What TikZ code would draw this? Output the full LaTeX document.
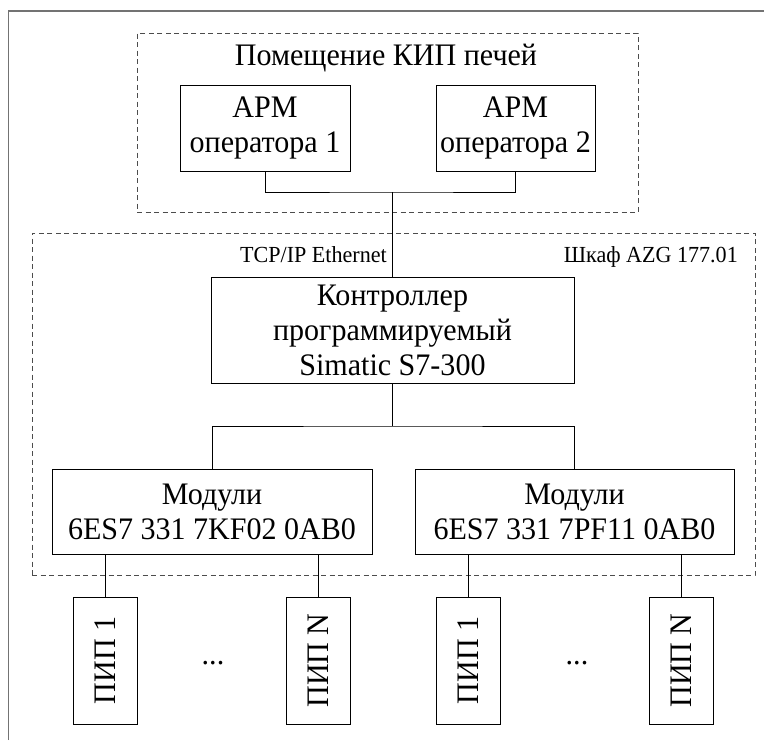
\documentclass[tikz,border=0pt]{standalone}
\usepackage{fontspec}
\setmainfont{Liberation Serif}[FakeStretch=0.96]
\newcommand\mainfnt{\fontsize{31.3}{35}\selectfont}
\newcommand\smallfnt{\fontsize{23}{26}\selectfont}
\begin{document}
\begin{tikzpicture}[x=1pt,y=-1pt,
    blk/.style={draw,line width=1pt,inner sep=0pt,align=center,font=\mainfnt},
    zone/.style={draw=black!70,dash pattern=on 5pt off 3.5pt,line width=1pt,inner sep=0pt},
    lbl/.style={inner sep=0pt}]
    \useasboundingbox (0,0) rectangle (764,740);
    \draw[black!55,line width=1.8pt] (8.5,740) -- (8.5,10.8) -- (764,10.8);
    %
    \node[zone,minimum width=501pt,minimum height=179pt] (room) at (387.5,122.5) {};
    \node[zone,minimum width=723pt,minimum height=342pt] (cab) at (393.5,404) {};
    \node[lbl,font=\mainfnt,anchor=base] (roomlbl) at (386,65) {Помещение КИП печей};
    \node[lbl,font=\smallfnt,anchor=base east] (net) at (387,262) {TCP/IP Ethernet};
    \node[lbl,font=\smallfnt,anchor=base east] (cablbl) at (738,262) {Шкаф AZG 177.01};
    %
    \node[blk,minimum width=170pt,minimum height=86pt] (arm1) at (265,128) {АРМ\\оператора 1};
    \node[blk,minimum width=159pt,minimum height=86pt] (arm2) at (515.5,128) {АРМ\\оператора 2};
    \node[blk,minimum width=363pt,minimum height=106pt] (ctrl) at (392.5,330)
      {Контроллер\\программируемый\\Simatic S7-300};
    \node[blk,minimum width=320pt,minimum height=85pt] (mod1) at (212,511.5)
      {Модули\\6ES7 331 7KF02 0AB0};
    \node[blk,minimum width=319pt,minimum height=85pt] (mod2) at (574.5,511.5)
      {Модули\\6ES7 331 7PF11 0AB0};
    %
    \coordinate (bus1) at (392.5,192);
    \coordinate (bus2) at (392.5,426);
    \draw[line width=1pt] (arm1.south) |- (bus1) -| (arm2.south);
    \draw[line width=1pt] (bus1) -- (ctrl.north);
    \draw[line width=1pt] (mod1.north) |- (bus2) -| (mod2.north);
    \draw[line width=1pt] (ctrl.south) -- (bus2);
    %
    \foreach \n/\x/\m/\t in {pip1/105/mod1/ПИП 1,pip2/318/mod1/ПИП N,
                             pip3/468/mod2/ПИП 1,pip4/681/mod2/ПИП N}{
      \node[blk,minimum width=64pt,minimum height=127pt] (\n) at (\x,660.5) {\rotatebox{90}{\t}};
      \draw[line width=1pt] (\n.north) -- (\n.north |- \m.south);
    }
    \node[lbl,font=\mainfnt,anchor=base] (dots1) at (213,664) {...};
    \node[lbl,font=\mainfnt,anchor=base] (dots2) at (577,664) {...};
\end{tikzpicture}
\end{document}
